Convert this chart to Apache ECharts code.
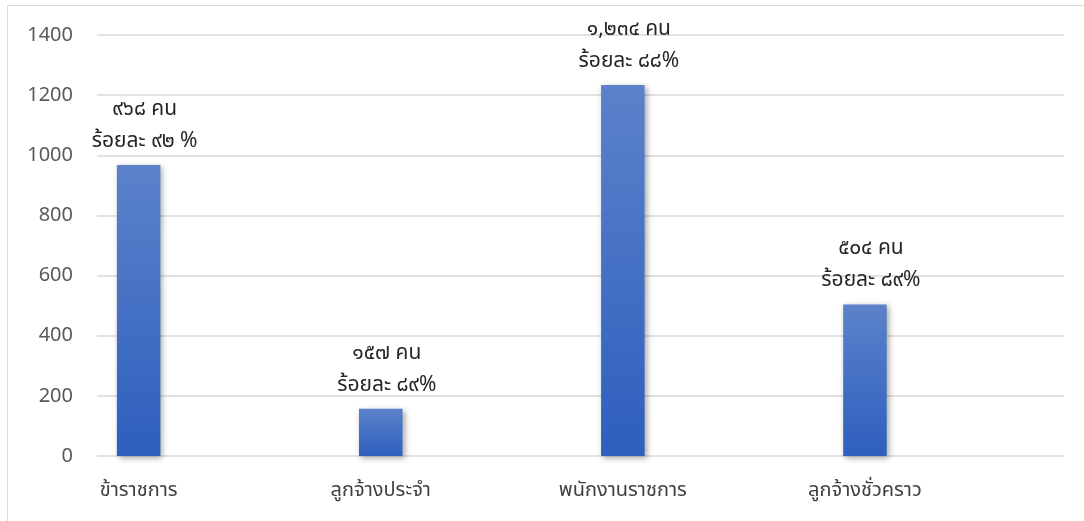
<!DOCTYPE html>
<html>
<head>
<meta charset="utf-8">
<script src="https://cdn.jsdelivr.net/npm/echarts@6/dist/echarts.min.js"></script>
<style>
html,body{margin:0;padding:0;background:#fff;}
#c{width:1084px;height:521px;}
</style>
</head>
<body>
<div id="c"></div>
<script>
const categories = ['ข้าราชการ', 'ลูกจ้างประจำ', 'พนักงานราชการ', 'ลูกจ้างชั่วคราว'];
const values = [968, 157, 1234, 504];
const countLabels = ['๙๖๘ คน', '๑๕๗ คน', '๑,๒๓๔ คน', '๕๐๔ คน'];
const percentLabels = ['ร้อยละ ๙๒ %', 'ร้อยละ ๘๙%', 'ร้อยละ ๘๘%', 'ร้อยละ ๘๙%'];
const yTicks = [0, 200, 400, 600, 800, 1000, 1200, 1400];

const FONT = '"Noto Sans", "Noto Sans Thai", Tahoma, sans-serif';
const chart = echarts.init(document.getElementById('c'), null, {renderer: 'canvas'});
chart.setOption({
  animation: false,
  backgroundColor: '#ffffff',
  graphic: [{
    type: 'rect',
    shape: {x: 7.5, y: 5.5, width: 1200, height: 700},
    style: {fill: 'none', stroke: '#d9d9d9', lineWidth: 1},
    silent: true
  }],
  grid: [
    {left: 97, right: 20, top: 35, bottom: 65},
    {left: 17.6, right: 98, top: 35, bottom: 65}
  ],
  xAxis: [
    {gridIndex: 0, type: 'category', data: categories, show: false},
    {
      gridIndex: 1, type: 'category', data: categories,
      axisLine: {show: false}, axisTick: {show: false},
      axisLabel: {color: '#404040', fontSize: 20, fontFamily: FONT, margin: 24}
    }
  ],
  yAxis: [
    {
      gridIndex: 0, type: 'value', min: yTicks[0], max: yTicks[yTicks.length - 1], interval: 200,
      axisLine: {show: false}, axisTick: {show: false},
      axisLabel: {color: '#595959', fontSize: 20, fontFamily: FONT, margin: 24, formatter: v => String(v)},
      splitLine: {lineStyle: {color: '#d9d9d9', width: 1.5}}
    },
    {
      gridIndex: 1, type: 'value', min: yTicks[0], max: yTicks[yTicks.length - 1], interval: 200,
      show: false, splitLine: {show: false}
    }
  ],
  series: [{
    type: 'bar',
    xAxisIndex: 1, yAxisIndex: 1,
    data: values,
    barWidth: 43.5,
    itemStyle: {
      color: new echarts.graphic.LinearGradient(0, 0, 0, 1, [
        {offset: 0, color: '#5b82ca'},
        {offset: 1, color: '#2e5fbe'}
      ]),
      shadowBlur: 6, shadowColor: 'rgba(0,0,0,0.35)', shadowOffsetX: 2, shadowOffsetY: 2
    },
    label: {
      show: true, position: 'top', distance: 8, offset: [6, 0],
      color: '#262626', fontSize: 21, fontFamily: FONT, lineHeight: 32,
      formatter: p => countLabels[p.dataIndex] + '\n' + percentLabels[p.dataIndex]
    }
  }]
});
</script>
</body>
</html>
